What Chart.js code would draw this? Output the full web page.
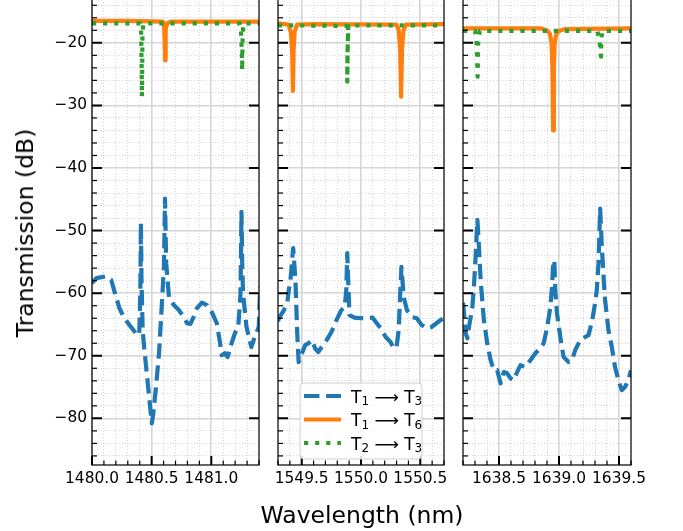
<!DOCTYPE html>
<html>
<head>
<meta charset="utf-8">
<script src="https://cdn.jsdelivr.net/npm/chart.js@4.4.1/dist/chart.umd.min.js"></script>
<style>
html, body { margin: 0; padding: 0; background: #fff; }
body { width: 683px; height: 531px; position: relative; overflow: hidden; font-family: "DejaVu Sans", sans-serif; }
canvas { position: absolute; top: -1px; }
.ttl { position: absolute; font-size: 23.5px; color: #000; white-space: nowrap; }
#xtitle { left: 362px; top: 515px; transform: translate(-50%, -50%); }
#ytitle { left: 25px; top: 233px; transform: translate(-50%, -50%) rotate(-90deg); }
</style>
</head>
<body>
<canvas id="c1" width="264" height="532" style="left:0px"></canvas>
<canvas id="c2" width="176" height="532" style="left:273px"></canvas>
<canvas id="c3" width="200" height="532" style="left:458px"></canvas>
<div class="ttl" id="xtitle">Wavelength (nm)</div>
<div class="ttl" id="ytitle">Transmission (dB)</div>
<script>
// series names
var LEGEND_LABELS = ['T₁ ⟶ T₃', 'T₁ ⟶ T₆', 'T₂ ⟶ T₃'];

// tick labels
var Y_TICKS = [-80, -70, -60, -50, -40, -30, -20];
var P1_XTICKS = [1480.0, 1480.5, 1481.0];
var P2_XTICKS = [1549.5, 1550.0, 1550.5];
var P3_XTICKS = [1638.5, 1639.0, 1639.5];

// ---- panel 1 (1480 nm) ----
var P1_X_T13 = [1480.000, 1480.008, 1480.037, 1480.120, 1480.161, 1480.202, 1480.230, 1480.271, 1480.327, 1480.368,
  1480.396, 1480.405, 1480.410, 1480.415, 1480.425, 1480.437, 1480.465, 1480.487, 1480.501, 1480.512,
  1480.534, 1480.562, 1480.589, 1480.603, 1480.612, 1480.622, 1480.645, 1480.686, 1480.728, 1480.769,
  1480.797, 1480.825, 1480.852, 1480.880, 1480.921, 1480.963, 1481.004, 1481.046, 1481.074, 1481.087,
  1481.115, 1481.137, 1481.170, 1481.198, 1481.226, 1481.245, 1481.253, 1481.259, 1481.266, 1481.295,
  1481.336, 1481.364, 1481.398, 1481.410];
var P1_Y_T13 = [-58.4, -58.2, -57.6, -57.3, -57.9, -60.6, -62.4, -64.0, -65.4, -66.4,
  -66.7, -60.0, -48.8, -58.0, -66.0, -68.6, -73.9, -78.1, -80.8, -79.5,
  -75.5, -69.6, -60.6, -55.8, -44.9, -55.2, -60.6, -61.9, -62.7, -63.8,
  -64.8, -64.9, -63.8, -62.4, -61.5, -61.9, -63.0, -64.8, -68.0, -69.9,
  -69.6, -70.2, -68.0, -66.4, -65.4, -60.0, -47.0, -55.0, -60.0, -65.4,
  -68.6, -67.0, -65.4, -59.0];
var P1_X_T16 = [1480.0, 1480.3, 1480.595, 1480.604, 1480.609, 1480.612, 1480.615, 1480.620, 1480.630, 1480.660, 1481.0, 1481.4];
var P1_Y_T16 = [-16.5, -16.5, -16.6, -17.3, -19.5, -22.8, -20.0, -17.8, -16.9, -16.6, -16.6, -16.6];
var P1_X_T23 = [1480.0, 1480.405, 1480.412, 1480.416, 1480.419, 1480.423, 1480.430, 1481.240, 1481.250, 1481.256, 1481.259, 1481.263, 1481.270, 1481.4];
var P1_Y_T23 = [-16.9, -16.9, -18.5, -24.0, -28.6, -19.0, -16.9, -16.9, -18.5, -21.5, -24.4, -18.5, -16.9, -16.9];

// ---- panel 2 (1550 nm) ----
var P2_X_T13 = [1549.300, 1549.308, 1549.350, 1549.378, 1549.391, 1549.405, 1549.428, 1549.447, 1549.461, 1549.474,
  1549.502, 1549.530, 1549.557, 1549.585, 1549.613, 1549.640, 1549.668, 1549.710, 1549.751, 1549.793,
  1549.834, 1549.862, 1549.876, 1549.884, 1549.893, 1549.903, 1549.945, 1550.000, 1550.055, 1550.097,
  1550.125, 1550.166, 1550.208, 1550.249, 1550.277, 1550.299, 1550.318, 1550.332, 1550.341, 1550.360,
  1550.387, 1550.429, 1550.470, 1550.512, 1550.553, 1550.595, 1550.636, 1550.678, 1550.700];
var P2_Y_T13 = [-64.5, -64.0, -62.7, -61.6, -59.5, -57.9, -52.8, -57.9, -65.9, -71.0,
  -69.6, -68.3, -68.0, -67.5, -68.8, -69.4, -68.6, -67.5, -66.2, -64.3,
  -62.7, -62.3, -59.5, -53.6, -58.4, -63.5, -63.9, -64.0, -64.0, -63.9,
  -64.6, -65.6, -67.0, -67.8, -68.8, -68.7, -65.9, -59.5, -55.8, -60.6,
  -62.7, -63.8, -64.0, -65.1, -65.6, -65.4, -64.8, -64.2, -64.0];
var P2_X_T16 = [1549.300, 1549.390, 1549.410, 1549.420, 1549.426, 1549.432, 1549.440, 1549.460, 1549.600,
  1550.300, 1550.318, 1550.330, 1550.338, 1550.346, 1550.358, 1550.380, 1550.700];
var P2_Y_T16 = [-16.9, -17.1, -18.5, -21.5, -27.7, -21.0, -18.3, -17.1, -17.0,
  -17.1, -18.0, -21.0, -28.6, -21.0, -18.0, -17.1, -17.0];
var P2_X_T23 = [1549.300, 1549.893, 1549.889, 1549.885, 1549.884, 1549.887, 1549.892, 1549.900, 1550.700];
var P2_Y_T23 = [-17.2, -17.3, -20.0, -23.0, -26.2, -21.0, -17.5, -17.2, -17.2];

// ---- panel 3 (1639 nm) ----
var P3_X_T13 = [1638.200, 1638.208, 1638.222, 1638.237, 1638.250, 1638.278, 1638.291, 1638.305, 1638.320, 1638.333,
  1638.347, 1638.374, 1638.402, 1638.430, 1638.457, 1638.485, 1638.513, 1638.540, 1638.568, 1638.596,
  1638.623, 1638.651, 1638.679, 1638.720, 1638.762, 1638.803, 1638.845, 1638.872, 1638.900, 1638.928,
  1638.942, 1638.950, 1638.961, 1638.969, 1638.983, 1639.011, 1639.038, 1639.080, 1639.108, 1639.135,
  1639.177, 1639.218, 1639.246, 1639.274, 1639.301, 1639.315, 1639.329, 1639.343, 1639.357, 1639.373,
  1639.384, 1639.412, 1639.440, 1639.467, 1639.495, 1639.523, 1639.550, 1639.578, 1639.600];
var P3_Y_T13 = [-61.5, -63.0, -66.4, -67.2, -65.4, -62.2, -59.0, -54.2, -48.3, -52.6,
  -57.9, -64.3, -68.0, -70.7, -72.3, -72.3, -74.4, -72.6, -72.8, -73.6,
  -73.9, -72.6, -71.5, -71.8, -70.7, -69.6, -68.8, -68.0, -65.6, -62.2,
  -59.0, -55.8, -54.7, -59.5, -63.2, -67.0, -70.2, -71.0, -70.7, -69.1,
  -67.5, -67.0, -66.7, -64.6, -61.6, -59.5, -55.2, -46.5, -52.6, -57.9,
  -61.1, -65.9, -68.6, -71.8, -73.9, -75.5, -75.0, -73.9, -72.3];
var P3_X_T16 = [1638.200, 1638.850, 1638.900, 1638.925, 1638.938, 1638.945, 1638.951, 1638.957, 1638.964, 1638.977, 1639.000, 1639.050, 1639.600];
var P3_Y_T16 = [-17.7, -17.7, -18.0, -18.6, -20.0, -24.0, -34.0, -24.0, -20.0, -18.6, -18.1, -17.8, -17.7];
var P3_X_T23 = [1638.200, 1638.300, 1638.312, 1638.318, 1638.322, 1638.326, 1638.340, 1639.320, 1639.335, 1639.345, 1639.350, 1639.353, 1639.360, 1639.600];
var P3_Y_T23 = [-18.1, -18.1, -19.5, -22.5, -25.4, -20.0, -18.1, -18.1, -19.5, -21.0, -22.2, -19.5, -18.1, -18.1];

Chart.defaults.font.family = '"DejaVu Sans", sans-serif';

function pts(xs, ys) {
  return xs.map(function (x, i) { return {x: x, y: ys[i]}; });
}
function near(list, v) {
  return list.find(function (m) { return Math.abs(m - v) < 1e-6; });
}

var TICK_FONT = '15.4px "DejaVu Sans", sans-serif';

// inward ticks, frame, y labels and the legend box
var decor = {
  id: 'decor',
  afterDatasetsDraw: function (chart, args, opts) {
    var ctx = chart.ctx, a = chart.chartArea, xs = chart.scales.x, ys = chart.scales.y;
    ctx.save();
    ctx.strokeStyle = '#000';
    ys.ticks.forEach(function (t) {
      var py = ys.getPixelForValue(t.value);
      var major = near(Y_TICKS, t.value) !== undefined;
      ctx.lineWidth = major ? 2 : 1.2;
      var len = major ? 10 : 5;
      ctx.beginPath();
      ctx.moveTo(a.left, py); ctx.lineTo(a.left + len, py);
      if (major) { ctx.moveTo(a.right, py); ctx.lineTo(a.right - len, py); }
      ctx.stroke();
    });
    xs.ticks.forEach(function (t) {
      var px = xs.getPixelForValue(t.value);
      var major = near(opts.xticks, t.value) !== undefined;
      ctx.lineWidth = major ? 2 : 1.2;
      var len = major ? 9 : 4.5;
      ctx.beginPath();
      ctx.moveTo(px, a.bottom); ctx.lineTo(px, a.bottom - len);
      ctx.stroke();
    });
    ctx.lineWidth = 1.2;
    ctx.strokeRect(a.left, a.top, a.right - a.left, a.bottom - a.top);
    if (opts.yLabels) {
      ctx.fillStyle = '#000';
      ctx.font = TICK_FONT;
      ctx.textAlign = 'right';
      ctx.textBaseline = 'middle';
      Y_TICKS.forEach(function (v) {
        ctx.fillText('\u2212' + Math.abs(v), a.left - 5, ys.getPixelForValue(v));
      });
    }
    ctx.restore();
  },
  afterDraw: function (chart, args, opts) {
    if (!opts.legend) return;
    var ctx = chart.ctx, a = chart.chartArea;
    var w = 122, h = 76;
    var bx = (a.left + a.right) / 2 - w / 2, by = a.bottom - 6 - h, r = 4;
    ctx.save();
    ctx.beginPath();
    ctx.moveTo(bx + r, by);
    ctx.arcTo(bx + w, by, bx + w, by + h, r);
    ctx.arcTo(bx + w, by + h, bx, by + h, r);
    ctx.arcTo(bx, by + h, bx, by, r);
    ctx.arcTo(bx, by, bx + w, by, r);
    ctx.closePath();
    ctx.fillStyle = 'rgba(255,255,255,0.85)';
    ctx.fill();
    ctx.strokeStyle = '#d0d0d0';
    ctx.lineWidth = 1;
    ctx.stroke();
    var subs = '₀₁₂₃₄₅₆₇₈₉';
    chart.data.datasets.forEach(function (ds, i) {
      var cy = by + 13 + i * 23.5;
      ctx.strokeStyle = ds.borderColor;
      ctx.lineWidth = ds.borderWidth;
      ctx.setLineDash(ds.borderDash || []);
      ctx.lineCap = 'butt';
      ctx.beginPath();
      ctx.moveTo(bx + 4, cy); ctx.lineTo(bx + 41, cy);
      ctx.stroke();
      ctx.setLineDash([]);
      ctx.fillStyle = '#000';
      ctx.textAlign = 'left';
      ctx.textBaseline = 'alphabetic';
      var x = bx + 51;
      Array.from(ds.label).forEach(function (ch) {
        var k = subs.indexOf(ch);
        if (k >= 0) {
          ctx.font = '12px "DejaVu Sans", sans-serif';
          ctx.fillText(String(k), x, cy + 9);
          x += ctx.measureText(String(k)).width;
        } else {
          ctx.font = '17px "DejaVu Sans", sans-serif';
          ctx.fillText(ch, x, cy + 6.5);
          x += ctx.measureText(ch).width;
        }
      });
    });
    ctx.restore();
  }
};

function makePanel(id, yWidth, padRight, xmin, xmax, xticks, t13, t16, t23, yLabels, legend) {
  var isMajorX = function (v) { return near(xticks, v) !== undefined; };
  var isMajorY = function (v) { return near(Y_TICKS, v) !== undefined; };
  return new Chart(document.getElementById(id), {
    type: 'line',
    data: {
      datasets: [
        { label: LEGEND_LABELS[0], data: t13, borderColor: '#1f77b4', borderWidth: 4.2,
          borderDash: [15.4, 6.7], order: 3 },
        { label: LEGEND_LABELS[1], data: t16, borderColor: '#ff7f0e', borderWidth: 4.2, order: 2 },
        { label: LEGEND_LABELS[2], data: t23, borderColor: '#2ca02c', borderWidth: 4.2,
          borderDash: [4.2, 6.9], order: 1 }
      ]
    },
    options: {
      responsive: false,
      animation: false,
      devicePixelRatio: 1,
      layout: { padding: { left: 0, right: padRight, top: 0, bottom: 0 } },
      elements: {
        point: { radius: 0 },
        line: { tension: 0, fill: false, borderJoinStyle: 'round', borderCapStyle: 'butt' }
      },
      datasets: { line: { clip: 0 } },
      plugins: {
        legend: { display: false },
        tooltip: { enabled: false },
        decor: { yLabels: yLabels, legend: legend, xticks: xticks }
      },
      scales: {
        x: {
          type: 'linear', min: xmin, max: xmax,
          afterFit: function (s) { s.height = 66; },
          ticks: {
            stepSize: 0.1, includeBounds: false, autoSkip: false, maxRotation: 0, minRotation: 0,
            padding: 5, color: '#000', font: { size: 15.4 },
            callback: function (v) { var m = near(xticks, v); return m === undefined ? '' : m.toFixed(1); }
          },
          grid: {
            drawTicks: false,
            color: function (c) { return c.tick && isMajorX(c.tick.value) ? '#d6d6d6' : '#cccccc'; },
            lineWidth: function (c) { return c.tick && isMajorX(c.tick.value) ? 1.6 : 0.8; }
          },
          border: { display: false,
            dash: function (c) { return c.tick && isMajorX(c.tick.value) ? [] : [1, 2]; } }
        },
        y: {
          min: -87.45, max: -13.0,
          afterFit: function (s) { s.width = yWidth; },
          ticks: { stepSize: 2, includeBounds: false, display: false },
          grid: {
            drawTicks: false,
            color: function (c) { return c.tick && isMajorY(c.tick.value) ? '#d6d6d6' : '#cccccc'; },
            lineWidth: function (c) { return c.tick && isMajorY(c.tick.value) ? 1.6 : 0.8; }
          },
          border: { display: false,
            dash: function (c) { return c.tick && isMajorY(c.tick.value) ? [] : [1, 2]; } }
        }
      }
    },
    plugins: [decor]
  });
}

makePanel('c1', 92, 3, 1480.0, 1481.4, P1_XTICKS,
  pts(P1_X_T13, P1_Y_T13), pts(P1_X_T16, P1_Y_T16), pts(P1_X_T23, P1_Y_T23), true, false);
makePanel('c2', 4, 3, 1549.3, 1550.7, P2_XTICKS,
  pts(P2_X_T13, P2_Y_T13), pts(P2_X_T16, P2_Y_T16), pts(P2_X_T23, P2_Y_T23), false, true);
makePanel('c3', 4, 27, 1638.2, 1639.6, P3_XTICKS,
  pts(P3_X_T13, P3_Y_T13), pts(P3_X_T16, P3_Y_T16), pts(P3_X_T23, P3_Y_T23), false, false);
</script>
</body>
</html>
